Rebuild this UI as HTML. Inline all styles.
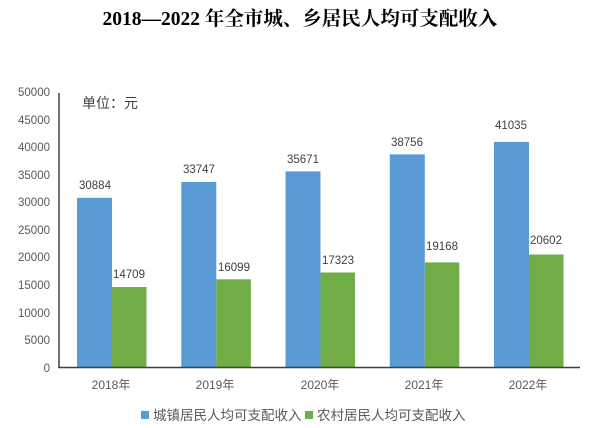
<!DOCTYPE html>
<html><head><meta charset="utf-8"><style>
body{margin:0;background:#fff;}
svg{display:block;}
</style></head><body>
<svg width="600" height="428" xmlns="http://www.w3.org/2000/svg" font-family="Liberation Sans, Noto Sans CJK SC, sans-serif">
<text x="300" y="25" text-anchor="middle" font-family="Liberation Serif, Noto Serif CJK SC, serif" font-weight="bold" font-size="19.5" fill="#000">2018—2022 年全市城、乡居民人均可支配收入</text>
<g font-size="11.5" fill="#595959" text-anchor="end">
<text x="50" y="96">50000</text>
<text x="50" y="124">45000</text>
<text x="50" y="151">40000</text>
<text x="50" y="179">35000</text>
<text x="50" y="206">30000</text>
<text x="50" y="234">25000</text>
<text x="50" y="261">20000</text>
<text x="50" y="289">15000</text>
<text x="50" y="317">10000</text>
<text x="50" y="344">5000</text>
<text x="50" y="372">0</text>
</g>
<text x="82" y="108" font-size="14" fill="#404040">单位：元</text>
<g id="bars">
<rect x="77" y="197.8" width="35" height="170.2" fill="#5b9bd5"/>
<rect x="112" y="287" width="34.5" height="81" fill="#70ad47"/>
<rect x="181.3" y="182" width="35" height="186" fill="#5b9bd5"/>
<rect x="216.3" y="279.3" width="34.5" height="88.7" fill="#70ad47"/>
<rect x="285.5" y="171.4" width="35" height="196.6" fill="#5b9bd5"/>
<rect x="320.5" y="272.5" width="34.5" height="95.5" fill="#70ad47"/>
<rect x="389.8" y="154.4" width="35" height="213.6" fill="#5b9bd5"/>
<rect x="424.8" y="262.4" width="34.5" height="105.6" fill="#70ad47"/>
<rect x="494" y="141.9" width="35" height="226.1" fill="#5b9bd5"/>
<rect x="529" y="254.5" width="34.5" height="113.5" fill="#70ad47"/>
</g>
<line x1="59" y1="93" x2="59" y2="368" stroke="#404040" stroke-width="1.5"/>
<line x1="58" y1="367.5" x2="580" y2="367.5" stroke="#404040" stroke-width="1.5"/>
<g font-size="11.5" fill="#404040" text-anchor="middle">
<text x="95" y="189">30884</text><text x="129" y="278">14709</text>
<text x="199" y="173">33747</text><text x="234" y="271">16099</text>
<text x="303" y="163">35671</text><text x="338" y="264">17323</text>
<text x="407" y="146">38756</text><text x="442" y="250">19168</text>
<text x="511" y="129">41035</text><text x="546" y="244">20602</text>
</g>
<g font-size="12" fill="#595959" text-anchor="middle">
<text x="111" y="389">2018年</text>
<text x="215" y="389">2019年</text>
<text x="320" y="389">2020年</text>
<text x="424" y="389">2021年</text>
<text x="528" y="389">2022年</text>
</g>
<rect x="141" y="411" width="8" height="8" fill="#5b9bd5"/>
<text x="153" y="420" font-size="13.5" fill="#595959">城镇居民人均可支配收入</text>
<rect x="305" y="411" width="8" height="8" fill="#70ad47"/>
<text x="317" y="420" font-size="13.5" fill="#595959">农村居民人均可支配收入</text>
</svg>
</body></html>
